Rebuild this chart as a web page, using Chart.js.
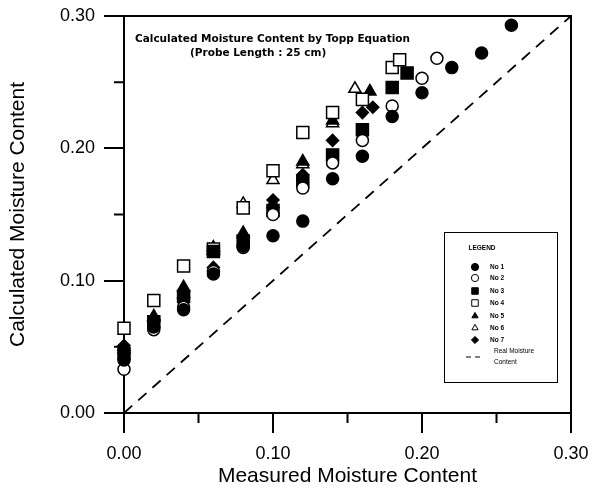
<!DOCTYPE html>
<html>
<head>
<meta charset="utf-8">
<script src="https://cdn.jsdelivr.net/npm/chart.js@4.4.0/dist/chart.umd.min.js"></script>
<style>
  html, body { margin: 0; padding: 0; background: #fff; }
  #wrap { width: 592px; height: 490px; position: relative; }
</style>
</head>
<body>
<div id="wrap"><canvas id="chart"></canvas></div>
<script>
// measured (x) vs calculated (y) moisture content per probe
const no1X = [0, 0.02, 0.04, 0.06, 0.08, 0.10, 0.12, 0.14, 0.16, 0.18, 0.20, 0.22, 0.24, 0.26];
const no1Y = [0.040, 0.065, 0.078, 0.105, 0.126, 0.134, 0.145, 0.177, 0.194, 0.224, 0.242, 0.261, 0.272, 0.293];
const no2X = [0, 0.02, 0.04, 0.06, 0.08, 0.10, 0.12, 0.14, 0.16, 0.18, 0.20, 0.21];
const no2Y = [0.033, 0.063, 0.080, 0.107, 0.125, 0.150, 0.170, 0.189, 0.206, 0.232, 0.253, 0.268];
const no3X = [0, 0.02, 0.04, 0.06, 0.08, 0.10, 0.12, 0.14, 0.16, 0.18, 0.19];
const no3Y = [0.045, 0.069, 0.088, 0.122, 0.130, 0.153, 0.175, 0.195, 0.214, 0.246, 0.257];
const no4X = [0, 0.02, 0.04, 0.06, 0.08, 0.10, 0.12, 0.14, 0.16, 0.18, 0.185];
const no4Y = [0.064, 0.085, 0.111, 0.124, 0.155, 0.183, 0.212, 0.227, 0.237, 0.261, 0.267];
const no5X = [0, 0.02, 0.04, 0.06, 0.08, 0.10, 0.12, 0.14, 0.165];
const no5Y = [0.050, 0.073, 0.095, 0.125, 0.136, 0.158, 0.190, 0.221, 0.243];
const no6X = [0, 0.02, 0.04, 0.06, 0.08, 0.10, 0.12, 0.14, 0.155];
const no6Y = [0.048, 0.072, 0.090, 0.123, 0.158, 0.176, 0.188, 0.219, 0.245];
const no7X = [0, 0.02, 0.04, 0.06, 0.08, 0.10, 0.12, 0.14, 0.16, 0.167];
const no7Y = [0.051, 0.071, 0.092, 0.110, 0.132, 0.161, 0.180, 0.206, 0.227, 0.231];

// 1:1 reference line (real moisture content)
const realX = [0, 0.30];
const realY = [0, 0.30];

const minorTicks = [0.05, 0.15, 0.25];
const titleLines = ['Calculated Moisture Content by Topp Equation', '(Probe Length : 25 cm)'];

const toPoints = (xs, ys) => xs.map((x, i) => ({ x: x, y: ys[i] }));

// marker style per probe: [label, xs, ys, shape, filled, radius]
const series = [
    ['No 1', no1X, no1Y, 'circle', true, 6],
    ['No 2', no2X, no2Y, 'circle', false, 6],
    ['No 3', no3X, no3Y, 'rect', true, 8.5],
    ['No 4', no4X, no4Y, 'rect', false, 8.5],
    ['No 5', no5X, no5Y, 'triangle', true, 7],
    ['No 6', no6X, no6Y, 'triangle', false, 7],
    ['No 7', no7X, no7Y, 'rectRot', true, 6]
];

const datasets = series.map(([label, xs, ys, shape, filled, r]) => ({
    type: 'scatter',
    label: label,
    data: toPoints(xs, ys),
    pointStyle: shape,
    pointRadius: r,
    pointBackgroundColor: filled ? '#000' : '#fff',
    pointBorderColor: '#000',
    pointBorderWidth: 1.5,
    showLine: false,
    clip: false
}));

datasets.push({
    type: 'line',
    label: 'Real Moisture Content',
    data: toPoints(realX, realY),
    borderColor: '#000',
    borderWidth: 1.8,
    borderDash: [11, 8],
    pointRadius: 0,
    fill: false,
    clip: false
});

const decorations = {
    id: 'decorations',
    afterDraw(chart) {
        const { ctx, chartArea: a, scales: { x, y } } = chart;
        ctx.save();
        ctx.strokeStyle = '#000';
        ctx.fillStyle = '#000';

        // top + right frame
        ctx.lineWidth = 2;
        ctx.beginPath();
        ctx.moveTo(a.left, a.top);
        ctx.lineTo(a.right, a.top);
        ctx.lineTo(a.right, a.bottom);
        ctx.stroke();

        // minor ticks
        ctx.beginPath();
        minorTicks.forEach(v => {
            const px = x.getPixelForValue(v);
            ctx.moveTo(px, a.bottom);
            ctx.lineTo(px, a.bottom + 10);
            const py = y.getPixelForValue(v);
            ctx.moveTo(a.left, py);
            ctx.lineTo(a.left - 10, py);
        });
        ctx.stroke();

        // title inside the plot
        ctx.textBaseline = 'middle';
        ctx.textAlign = 'left';
        ctx.font = 'bold 10.5px "DejaVu Sans"';
        ctx.fillText(titleLines[0], a.left + 11, a.top + 23);
        ctx.fillText(titleLines[1], a.left + 66, a.top + 37);

        // legend box
        const lx = 444, ly = 232, lw = 113, lh = 150;
        ctx.lineWidth = 1;
        ctx.strokeRect(lx + 0.5, ly + 0.5, lw, lh);
        ctx.font = 'bold 6.5px "Liberation Sans"';
        ctx.textAlign = 'center';
        ctx.fillText('LEGEND', lx + 38, ly + 16);
        ctx.textAlign = 'left';
        const rowY = [35, 46, 59, 71, 84, 96, 108];
        chart.data.datasets.forEach((ds, i) => {
            if (i >= rowY.length) return;
            ctx.fillStyle = ds.pointBackgroundColor;
            ctx.strokeStyle = '#000';
            ctx.lineWidth = 1;
            Chart.helpers.drawPoint(ctx, {
                pointStyle: ds.pointStyle,
                radius: ds.pointStyle === 'rect' ? 4.6 : 3.6,
                borderWidth: 1
            }, lx + 31, ly + rowY[i]);
            ctx.fillStyle = '#000';
            ctx.fillText(ds.label, lx + 46, ly + rowY[i]);
        });
        ctx.beginPath();
        ctx.setLineDash([5, 4]);
        ctx.moveTo(lx + 22, ly + 125);
        ctx.lineTo(lx + 40, ly + 125);
        ctx.stroke();
        ctx.setLineDash([]);
        ctx.font = '6.5px "Liberation Sans"';
        ctx.fillText('Real Moisture', lx + 50, ly + 119);
        ctx.fillText('Content', lx + 50, ly + 130);
        ctx.restore();
    }
};

new Chart(document.getElementById('chart'), {
    data: { datasets: datasets },
    options: {
        responsive: true,
        maintainAspectRatio: false,
        animation: false,
        layout: { padding: { left: 0, top: 16, right: 21, bottom: 0 } },
        plugins: {
            legend: { display: false },
            tooltip: { enabled: false }
        },
        scales: {
            x: {
                type: 'linear',
                min: 0,
                max: 0.3,
                afterFit: (scale) => {
                    scale.height = 77;
                    scale.paddingLeft = 0;
                    scale.paddingRight = 0;
                },
                ticks: {
                    stepSize: 0.1,
                    padding: 10,
                    color: '#000',
                    font: { family: 'Liberation Sans', size: 18 },
                    callback: (val) => val.toFixed(2)
                },
                grid: {
                    drawOnChartArea: false,
                    tickLength: 20,
                    lineWidth: 2,
                    color: '#000'
                },
                border: { color: '#000', width: 2 },
                title: {
                    display: true,
                    text: 'Measured Moisture Content',
                    color: '#000',
                    font: { family: 'Liberation Sans', size: 21 },
                    padding: { top: 0, bottom: 1 }
                }
            },
            y: {
                type: 'linear',
                min: 0,
                max: 0.3,
                afterFit: (scale) => {
                    scale.width = 124;
                    scale.paddingTop = 0;
                    scale.paddingBottom = 0;
                },
                ticks: {
                    stepSize: 0.1,
                    padding: 9,
                    color: '#000',
                    font: { family: 'Liberation Sans', size: 18 },
                    callback: (val) => val.toFixed(2)
                },
                grid: {
                    drawOnChartArea: false,
                    tickLength: 20,
                    lineWidth: 2,
                    color: '#000'
                },
                border: { color: '#000', width: 2 },
                title: {
                    display: true,
                    text: 'Calculated Moisture Content',
                    color: '#000',
                    font: { family: 'Liberation Sans', size: 21 },
                    padding: { top: 6, bottom: 0 }
                }
            }
        }
    },
    plugins: [decorations]
});
</script>
</body>
</html>
